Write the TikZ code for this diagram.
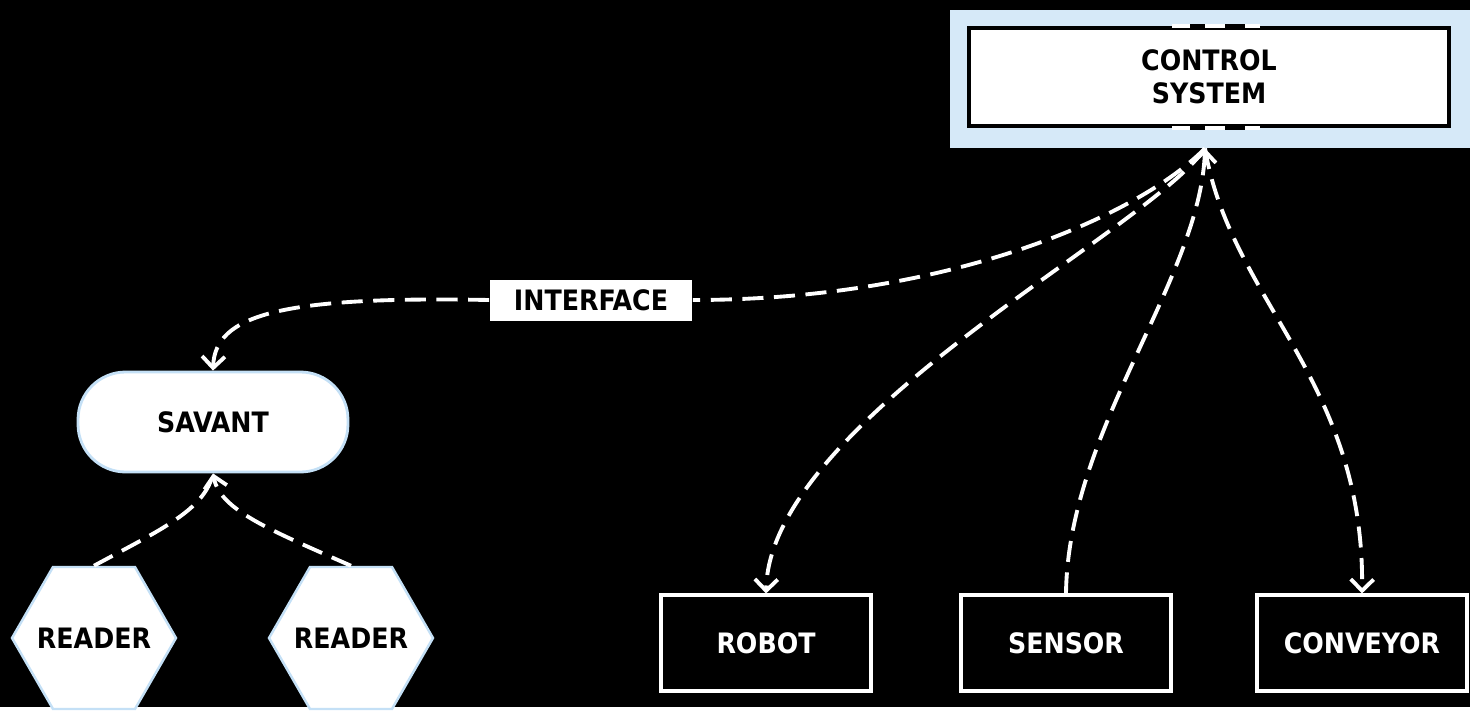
\documentclass[tikz,border=0pt]{standalone}
\usepackage{fontspec}
\setmainfont{DejaVu Sans Condensed}[BoldFont={DejaVu Sans Condensed Bold}]
\usepackage{tikz}
\usetikzlibrary{shapes.geometric, arrows.meta, positioning, calc}
\definecolor{glowblue}{RGB}{196, 224, 246}
\definecolor{panelblue}{RGB}{214, 233, 248}

\begin{document}
\begin{tikzpicture}[
    x=0.02cm, y=-0.02cm,
    txt/.style={font=\bfseries\fontsize{16}{18.5}\selectfont, align=center},
    panel/.style={rectangle, fill=panelblue, minimum width=10.4cm, minimum height=2.76cm, inner sep=0pt},
    ctrlbox/.style={txt, rectangle, draw=black, line width=2.2pt, fill=white, minimum width=9.6cm, minimum height=1.96cm},
    hub/.style={txt, rectangle, rounded corners=0.95cm, draw=glowblue, line width=1.6pt, fill=white, minimum width=5.4cm, minimum height=2cm},
    reader/.style={regular polygon, regular polygon sides=6, minimum size=3.28cm, inner sep=0pt, draw=glowblue, line width=1.4pt, fill=white},
    device/.style={txt, rectangle, draw=white, line width=1.8pt, fill=black, text=white, minimum width=4.2cm, minimum height=1.92cm},
    tag/.style={txt, rectangle, fill=white, minimum width=4.06cm, minimum height=0.82cm},
    link/.style={white, line width=2.2pt, dash pattern=on 12pt off 6pt},
    tip/.style={-{Straight Barb[length=6.5pt, width=13pt, line width=2.2pt]}}
]
    \fill[black] (0,0) rectangle (1470,707);

    \node[panel] (panel) at (1210,79) {};
    \node[ctrlbox] (ctrl) at (1209,77) {CONTROL\\SYSTEM};
    % gap in the frame
    \foreach \a in {north, south} {
        \draw[white, line width=2.6pt] ($(ctrl.\a)+(-37,0)$) -- ($(ctrl.\a)+(51,0)$);
        \draw[black, line width=1.8pt] ($(ctrl.\a)+(-19,0)$) -- ($(ctrl.\a)+(-4,0)$);
        \draw[black, line width=1.8pt] ($(ctrl.\a)+(16,0)$) -- ($(ctrl.\a)+(36,0)$);
    }
    \coordinate (hubpt) at ($(panel.south)+(-5,0)$);

    \node[hub] (savant) at (213,422) {SAVANT};
    \node[reader, label={[txt]center:READER}] (rdrA) at (94,638) {};
    \node[reader, label={[txt]center:READER}] (rdrB) at (351,638) {};

    \node[tag] (iface) at (591,300) {INTERFACE};

    \node[device] (robot) at (766,643) {ROBOT};
    \node[device] (sensor) at (1066,643) {SENSOR};
    \node[device] (conveyor) at (1362,643) {CONVEYOR};

    \draw[link] (hubpt) .. controls (1140,215) and (950,300) .. (iface.east);
    \draw[link, tip] (iface.west) .. controls (280,296) and (215,315) .. (savant.north);
    \draw[link, tip] (hubpt) .. controls (1150,230) and (770,420) .. (robot.north);
    \draw[link, tip] (sensor.north) .. controls (1068,430) and (1200,280) .. (hubpt);
    \draw[link, tip] (hubpt) .. controls (1230,300) and (1365,380) .. (conveyor.north);

    \draw[link] (rdrA.north) .. controls (160,530) and (205,510) .. (savant.south);
    \draw[link, tip] (rdrB.north) .. controls (270,530) and (220,510) .. (savant.south);
\end{tikzpicture}
\end{document}
